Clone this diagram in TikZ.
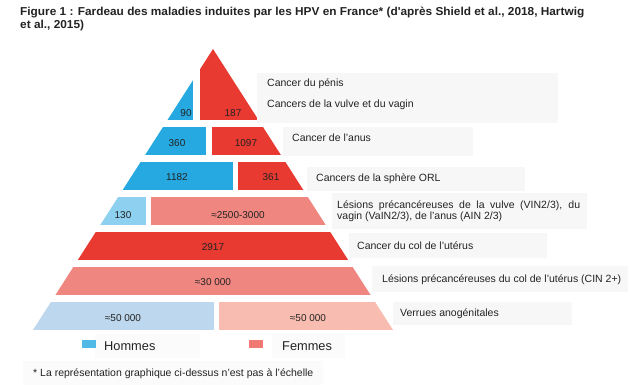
\documentclass[tikz,border=0pt]{standalone}
\usepackage{fontspec}
\setmainfont{Liberation Sans}
\newfontfamily\titrefont{Liberation Sans}[FakeStretch=1.03]
\usepackage{tikz}
\usetikzlibrary{positioning}

\tikzset{
    num/.style = {anchor=base, inner sep=0pt, text=texte, font=\fontsize{10}{12}\selectfont},
    etiq/.style = {anchor=base west, inner sep=0pt, text=texte, font=\fontsize{10.5}{12}\selectfont},
    titreligne/.style = {anchor=base west, inner sep=0pt, text=texte, font=\titrefont\bfseries\fontsize{11.5}{13}\selectfont},
    legende/.style = {anchor=base west, inner sep=0pt, text=texte, font=\fontsize{12.8}{15}\selectfont}
}

\begin{document}
\begin{tikzpicture}[x=1pt, y=-1pt]
            \definecolor{texte}{RGB}{35,35,35};
            \definecolor{bleu}{RGB}{38,168,224};
            \definecolor{rouge}{RGB}{232,58,48};
            \definecolor{bleuclair}{RGB}{142,208,240};
            \definecolor{saumon}{RGB}{240,134,128};
            \definecolor{bleupale}{RGB}{189,215,238};
            \definecolor{saumonpale}{RGB}{249,188,176};
            \definecolor{fond}{RGB}{247,247,247};
            \definecolor{fondclair}{RGB}{251,251,251};

            \fill[white] (0,0) rectangle (630,387);

            % titre
            \node[titreligne] (titre) at (20,15.5)
                {Figure 1 : Fardeau des maladies induites par les HPV en France* (d'après Shield et al., 2018, Hartwig};
            \node[titreligne] (titre2) at (20,28.5) {et al., 2015)};

            % pyramide
            \begin{scope}
                \clip (213,49) -- (393,330) -- (33,330) -- cycle;
                \fill[bleu] (0,40) rectangle (193,120);
                \fill[rouge] (200,40) rectangle (400,120);
                \fill[bleu] (0,127) rectangle (206,155);
                \fill[rouge] (212,127) rectangle (400,155);
                \fill[bleu] (0,162) rectangle (233,190);
                \fill[rouge] (238,162) rectangle (400,190);
                \fill[bleuclair] (0,197) rectangle (146,225);
                \fill[saumon] (151,197) rectangle (400,225);
                \fill[rouge] (0,232) rectangle (400,260);
                \fill[saumon] (0,267) rectangle (400,295);
                \fill[bleupale] (0,302) rectangle (214,330);
                \fill[saumonpale] (219,302) rectangle (400,330);
            \end{scope}

            \node[num] (h1) at (186,116.5) {90};
            \node[num] (f1) at (233,116.5) {187};
            \node[num] (h2) at (177,146.5) {360};
            \node[num] (f2) at (246,146.5) {1097};
            \node[num] (h3) at (177,180.5) {1182};
            \node[num] (f3) at (271,180.5) {361};
            \node[num] (h4) at (123,218.5) {130};
            \node[num] (f4) at (238,218.5) {≈2500-3000};
            \node[num] (f5) at (213,250.5) {2917};
            \node[num] (f6) at (213,285.5) {≈30 000};
            \node[num] (h7) at (123,321.5) {≈50 000};
            \node[num] (f7) at (308,321.5) {≈50 000};

            % etiquettes
            \fill[fond] (257,73) rectangle (558,123);
            \fill[fond] (283,127) rectangle (473,156);
            \fill[fond] (307,167) rectangle (525,191);
            \fill[fond] (332,193) rectangle (587,229);
            \fill[fond] (349,233) rectangle (547,258);
            \fill[fond] (372,266) rectangle (628,292);
            \fill[fond] (393,302) rectangle (572,325);

            \node[etiq] (l1a) at (267,87) {Cancer du pénis};
            \node[etiq] (l1b) at (267,108) {Cancers de la vulve et du vagin};
            \node[etiq] (l2) at (292,141.5) {Cancer de l’anus};
            \node[etiq] (l3) at (316,181.5) {Cancers de la sphère ORL};
            \node[etiq, text width=243pt, align=justify, font=\fontsize{10.5}{11.5}\selectfont] (l4) at (337,208.5)
                {Lésions précancéreuses de la vulve (VIN2/3), du\linebreak vagin (VaIN2/3), de l’anus (AIN 2/3)};
            \node[etiq] (l5) at (357,249.5) {Cancer du col de l’utérus};
            \node[etiq] (l6) at (382,282.5) {Lésions précancéreuses du col de l’utérus (CIN 2+)};
            \node[etiq] (l7) at (400,316.5) {Verrues anogénitales};

            % legende
            \fill[fondclair] (95,334) rectangle (200,358);
            \fill[fondclair] (272,334) rectangle (345,358);
            \fill[fondclair] (23,361) rectangle (323,385);
            \fill[bleu!80!white] (82,340) rectangle (96,348);
            \fill[saumon!90!red] (249,340) rectangle (263,348);
            \node[legende] (hommes) at (104,350.5) {Hommes};
            \node[legende] (femmes) at (282,350.5) {Femmes};
            \node[etiq] (note) at (33,377) {* La représentation graphique ci-dessus n’est pas à l’échelle};

            %\draw[red] (213,49) -- (393,330) -- (33,330) -- cycle;
\end{tikzpicture}
\end{document}
